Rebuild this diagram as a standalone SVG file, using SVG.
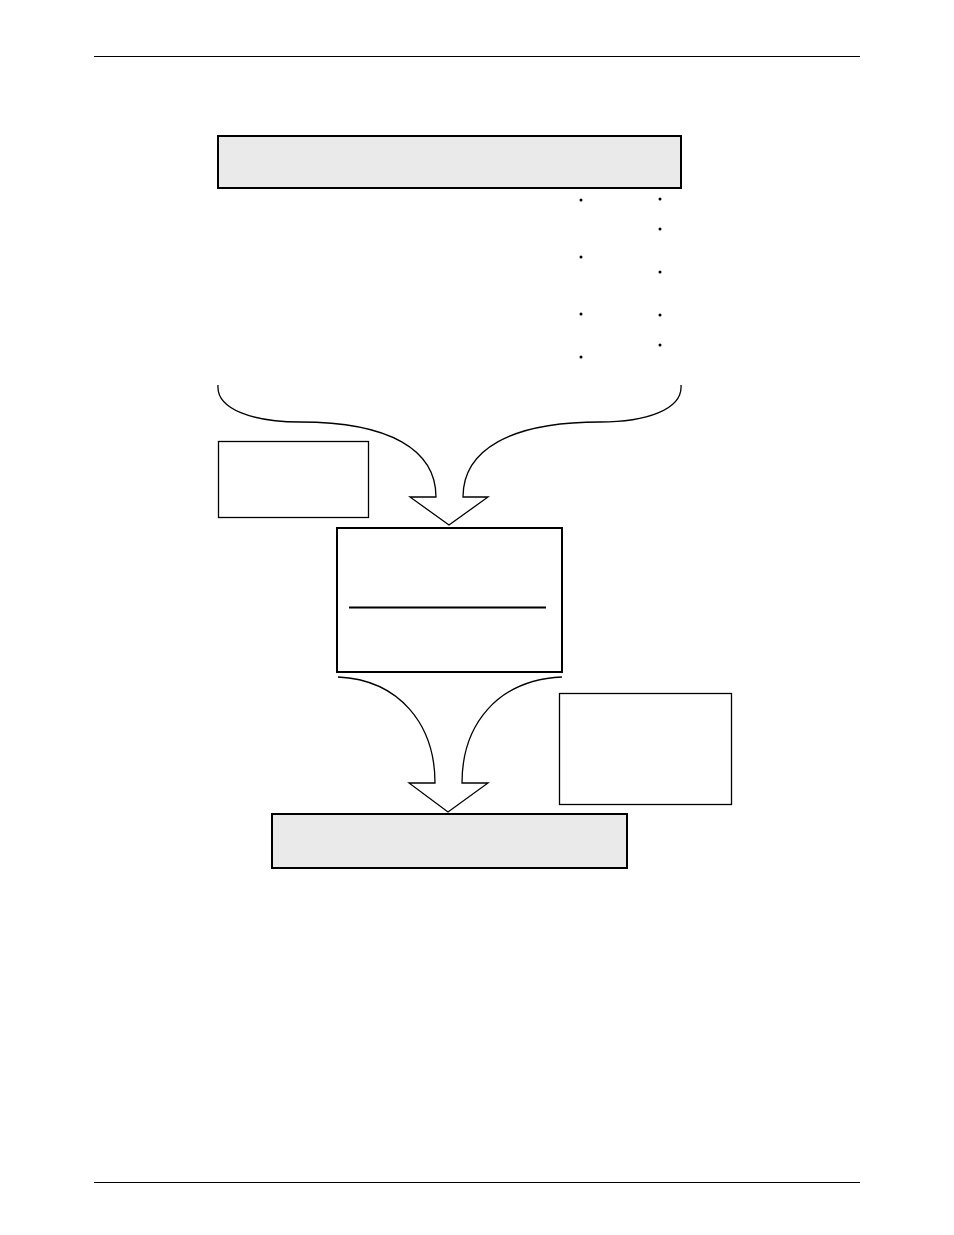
<svg xmlns="http://www.w3.org/2000/svg" width="954" height="1235" viewBox="0 0 954 1235">
<style>
.rule{stroke:#000;stroke-width:1}
.grey{fill:#eaeaea;stroke:#000;stroke-width:2}
.plain{fill:#fff;stroke:#000;stroke-width:1.3}
.thick{fill:#fff;stroke:#000;stroke-width:2}
.arrow{fill:none;stroke:#000;stroke-width:1.3;stroke-linejoin:miter}
.dot{fill:#000}
</style>
<rect width="954" height="1235" fill="#fff"/>
<line class="rule" x1="94" y1="56.5" x2="860" y2="56.5"/>
<line class="rule" x1="94" y1="1182.5" x2="860" y2="1182.5"/>
<g id="top-box"><rect class="grey" x="218" y="136" width="463" height="52"/></g>
<g id="bullets">
<circle class="dot" cx="581" cy="200" r="1.5"/>
<circle class="dot" cx="581" cy="257" r="1.5"/>
<circle class="dot" cx="581" cy="314" r="1.5"/>
<circle class="dot" cx="581" cy="357" r="1.5"/>
<circle class="dot" cx="660" cy="199" r="1.5"/>
<circle class="dot" cx="660" cy="229" r="1.5"/>
<circle class="dot" cx="660" cy="272" r="1.5"/>
<circle class="dot" cx="660" cy="315" r="1.5"/>
<circle class="dot" cx="660" cy="345" r="1.5"/>
</g>
<g id="left-note"><rect class="plain" x="218.5" y="441.5" width="150" height="76"/></g>
<g id="middle-box">
<rect class="thick" x="337" y="528" width="225" height="144"/>
<line x1="349" y1="607.5" x2="546" y2="607.5" stroke="#000" stroke-width="2"/>
</g>
<g id="right-note"><rect class="plain" x="559.5" y="693.5" width="172" height="111"/></g>
<g id="bottom-box"><rect class="grey" x="272" y="814" width="355" height="54"/></g>
<g id="connectors">
<path class="arrow" d="M218,385 C216,410 255,422 300,422 C390,422 436,450 436,497 L410,497 L449,525 L488,497 L463,497 C463,450 510,422 600,422 C645,422 683,410 681,385"/>
<path class="arrow" d="M338,677 C400,680 435,725 435,783 L409,783 L448,812 L488,783 L462,783 C462,725 497,680 562,677"/>
</g>
</svg>
